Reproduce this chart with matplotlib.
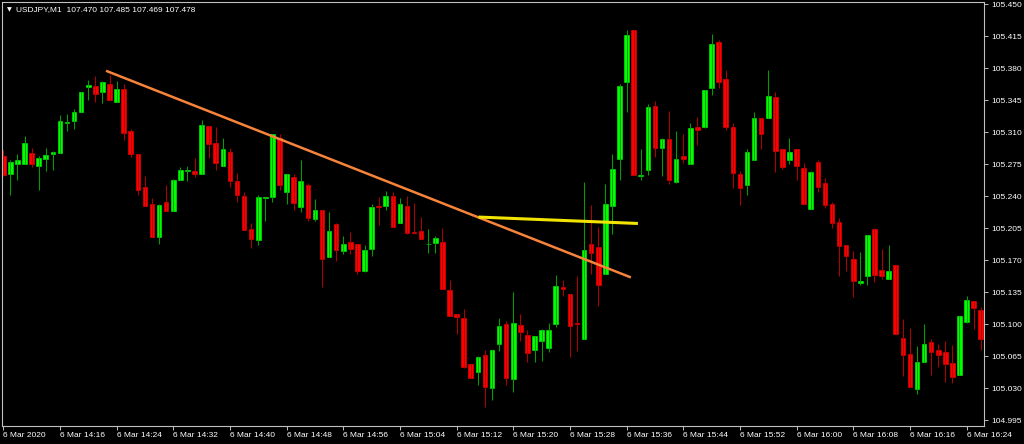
import numpy as np
import pandas as pd
import matplotlib
matplotlib.use("Agg")
import matplotlib.pyplot as plt

# USDJPY M1 candles, 6 Mar 2020 from 14:08
opens = [105.284, 105.264, 105.275, 105.275, 105.287, 105.273, 105.281, 105.286, 105.287, 105.320,
         105.322, 105.332, 105.359, 105.360, 105.354, 105.362, 105.343, 105.357, 105.311, 105.286,
         105.250, 105.231, 105.195, 105.233, 105.224, 105.258, 105.267, 105.267, 105.264, 105.317,
         105.298, 105.273, 105.288, 105.256, 105.240, 105.204, 105.192, 105.238, 105.239, 105.304,
         105.244, 105.261, 105.228, 105.252, 105.215, 105.225, 105.173, 105.209, 105.180, 105.190,
         105.188, 105.158, 105.182, 105.229, 105.229, 105.240, 105.211, 105.229, 105.201, 105.202,
         105.187, 105.189, 105.190, 105.137, 105.111, 105.107, 105.056, 105.048, 105.066, 105.030,
         105.078, 105.100, 105.040, 105.099, 105.088, 105.072, 105.081, 105.074, 105.100, 105.140,
         105.133, 105.101, 105.084, 105.188, 105.184, 105.155, 105.229, 105.281, 105.365, 105.422,
         105.262, 105.268, 105.338, 105.293, 105.302, 105.255, 105.284, 105.275, 105.316, 105.316,
         105.358, 105.408, 105.368, 105.316, 105.264, 105.252, 105.279, 105.325, 105.325, 105.348,
         105.291, 105.279, 105.291, 105.271, 105.226, 105.277, 105.254, 105.231, 105.212, 105.186,
         105.171, 105.145, 105.153, 105.204, 105.159, 105.149, 105.165, 105.085, 105.067, 105.029,
         105.058, 105.080, 105.072, 105.069, 105.057, 105.044, 105.102, 105.125, 105.115]
highs = [105.290, 105.279, 105.286, 105.306, 105.293, 105.284, 105.293, 105.289, 105.329, 105.330,
         105.335, 105.354, 105.367, 105.371, 105.366, 105.372, 105.366, 105.363, 105.313, 105.286,
         105.262, 105.238, 105.231, 105.252, 105.259, 105.272, 105.273, 105.282, 105.323, 105.317,
         105.316, 105.303, 105.292, 105.265, 105.244, 105.210, 105.241, 105.239, 105.308, 105.308,
         105.264, 105.264, 105.279, 105.254, 105.237, 105.225, 105.222, 105.210, 105.196, 105.201,
         105.188, 105.186, 105.231, 105.239, 105.246, 105.244, 105.238, 105.240, 105.232, 105.217,
         105.204, 105.196, 105.205, 105.148, 105.111, 105.116, 105.056, 105.065, 105.072, 105.072,
         105.107, 105.103, 105.135, 105.111, 105.093, 105.087, 105.095, 105.101, 105.154, 105.148,
         105.133, 105.153, 105.255, 105.230, 105.206, 105.253, 105.286, 105.363, 105.422, 105.422,
         105.291, 105.341, 105.344, 105.303, 105.333, 105.311, 105.308, 105.320, 105.326, 105.356,
         105.417, 105.411, 105.378, 105.320, 105.267, 105.291, 105.332, 105.325, 105.378, 105.354,
         105.291, 105.303, 105.291, 105.276, 105.267, 105.279, 105.260, 105.234, 105.216, 105.186,
         105.180, 105.179, 105.197, 105.205, 105.182, 105.186, 105.165, 105.106, 105.096, 105.076,
         105.100, 105.084, 105.078, 105.081, 105.077, 105.109, 105.131, 105.125, 105.119]
lows = [105.262, 105.241, 105.257, 105.275, 105.272, 105.247, 105.267, 105.268, 105.287, 105.311,
        105.313, 105.332, 105.345, 105.343, 105.342, 105.345, 105.343, 105.301, 105.283, 105.241,
        105.229, 105.195, 105.187, 105.224, 105.224, 105.258, 105.256, 105.261, 105.264, 105.282,
        105.268, 105.273, 105.250, 105.234, 105.203, 105.183, 105.186, 105.213, 105.233, 105.247,
        105.231, 105.225, 105.223, 105.213, 105.213, 105.140, 105.173, 105.169, 105.177, 105.177,
        105.155, 105.157, 105.174, 105.208, 105.225, 105.206, 105.211, 105.199, 105.199, 105.193,
        105.178, 105.178, 105.138, 105.109, 105.089, 105.052, 105.041, 105.033, 105.009, 105.017,
        105.070, 105.033, 105.026, 105.081, 105.058, 105.059, 105.060, 105.069, 105.097, 105.131,
        105.064, 105.070, 105.084, 105.155, 105.120, 105.155, 105.199, 105.258, 105.332, 105.263,
        105.257, 105.263, 105.283, 105.262, 105.253, 105.254, 105.276, 105.275, 105.296, 105.314,
        105.351, 105.358, 105.312, 105.249, 105.230, 105.241, 105.279, 105.291, 105.325, 105.266,
        105.270, 105.275, 105.258, 105.231, 105.226, 105.244, 105.227, 105.205, 105.153, 105.158,
        105.130, 105.143, 105.143, 105.146, 105.149, 105.149, 105.089, 105.043, 105.031, 105.023,
        105.058, 105.044, 105.053, 105.037, 105.036, 105.044, 105.101, 105.095, 105.072]
closes = [105.263, 105.277, 105.279, 105.298, 105.275, 105.282, 105.285, 105.288, 105.322, 105.321,
          105.332, 105.354, 105.361, 105.352, 105.365, 105.345, 105.357, 105.309, 105.286, 105.247,
          105.229, 105.195, 105.230, 105.224, 105.257, 105.268, 105.268, 105.264, 105.318, 105.297,
          105.276, 105.291, 105.256, 105.241, 105.203, 105.193, 105.239, 105.239, 105.308, 105.252,
          105.264, 105.232, 105.256, 105.216, 105.225, 105.171, 105.202, 105.181, 105.188, 105.182,
          105.158, 105.181, 105.228, 105.228, 105.240, 105.206, 105.231, 105.200, 105.200, 105.193,
          105.188, 105.194, 105.138, 105.109, 105.108, 105.053, 105.041, 105.064, 105.031, 105.072,
          105.098, 105.041, 105.101, 105.091, 105.068, 105.087, 105.093, 105.094, 105.142, 105.138,
          105.098, 105.100, 105.181, 105.178, 105.143, 105.231, 105.270, 105.360, 105.416, 105.263,
          105.263, 105.337, 105.292, 105.302, 105.258, 105.281, 105.280, 105.314, 105.312, 105.356,
          105.406, 105.365, 105.316, 105.265, 105.249, 105.288, 105.325, 105.308, 105.349, 105.289,
          105.272, 105.288, 105.273, 105.231, 105.266, 105.250, 105.230, 105.211, 105.185, 105.174,
          105.147, 105.147, 105.197, 105.154, 105.153, 105.158, 105.089, 105.066, 105.031, 105.058,
          105.078, 105.069, 105.066, 105.056, 105.042, 105.109, 105.126, 105.118, 105.084]

# drawn objects (bar index, price)
trend_x, trend_y = [14.5, 88.6], [105.377, 105.151]
level_x, level_y = [67.1, 89.6], [105.217, 105.210]
price_ticks = [104.995 + 0.035 * k for k in range(14)]
title = "USDJPY,M1  107.470 107.485 107.469 107.478"

BULL, BEAR = "#00FF00", "#FF0000"
BULL_W, BEAR_W = "#00A000", "#B00000"
FRAME, TXT = "#C0C0C0", "#FFFFFF"
W, H = 1024, 444

plt.rcParams["font.family"] = ["Liberation Sans", "DejaVu Sans"]
fig = plt.figure(figsize=(W / 100, H / 100), dpi=100, facecolor="black")
ax = fig.add_axes([2 / W, (H - 426) / H, 982 / W, 424 / H], facecolor="black")

o, h, l, c = map(np.array, (opens, highs, lows, closes))
x = np.arange(len(o))
up = c >= o
ax.vlines(x[up], l[up], h[up], color=BULL_W, lw=0.75)
ax.vlines(x[~up], l[~up], h[~up], color=BEAR_W, lw=0.75)
body = np.maximum(np.abs(c - o), 0.0004)
ax.bar(x[up], body[up], 0.65, bottom=np.minimum(o, c)[up], color=BULL, edgecolor=BULL, lw=0.4)
ax.bar(x[~up], body[~up], 0.65, bottom=np.minimum(o, c)[~up], color=BEAR, edgecolor=BEAR, lw=0.4)

ax.plot(trend_x, trend_y, color="#F7843A", lw=1.8, solid_capstyle="butt")
ax.plot(level_x, level_y, color="#F2E400", lw=2.2, solid_capstyle="butt")

ax.set_xlim(-0.18, 138.46)
ax.set_ylim(104.9885, 105.4522)

times = pd.date_range("2020-03-06 14:08", periods=len(o), freq="min")
xt = x[::8]
labels = ["6 Mar 2020"] + [f"6 Mar {t:%H:%M}" for t in times[::8][1:]]
ax.set_xticks(xt)
ax.set_xticklabels(labels, ha="left")
ax.yaxis.tick_right()
ax.set_yticks(price_ticks)
ax.set_yticklabels([f"{p:.3f}" for p in price_ticks])
ax.tick_params(colors=FRAME, labelcolor=TXT, labelsize=6, length=3, width=0.7)
ax.tick_params(axis="x", pad=1.5)
ax.tick_params(axis="y", pad=2)
for s in ax.spines.values():
    s.set_color(FRAME); s.set_linewidth(0.8)

fig.text(9 / W, 1 - 10 / H, "\u25BC", color=TXT, fontsize=4.5, ha="center", va="center",
         family=["DejaVu Sans"])
fig.text(16 / W, 1 - 10 / H, title, color=TXT, fontsize=6, ha="left", va="center")

fig.savefig("out.png", dpi=100, facecolor="black")
